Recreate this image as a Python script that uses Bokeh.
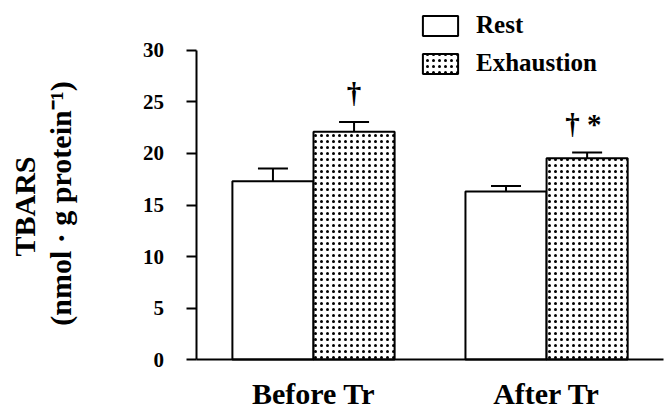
from bokeh.plotting import figure
from bokeh.models import (ColumnDataSource, Range1d, Whisker, TeeHead,
                          Legend, LegendItem, FixedTicker, Label)
from bokeh.core.properties import value
from bokeh.embed import file_html
from bokeh.resources import INLINE

# ---- data ----
groups = ["Before Tr", "After Tr"]
rest = [17.3, 16.3]
rest_err = [1.25, 0.55]
exhaustion = [22.1, 19.55]
exhaustion_err = [0.95, 0.55]
marks = ["\u2020", "\u2020  *"]
series_names = ["Rest", "Exhaustion"]
y_ticks = [0, 5, 10, 15, 20, 25, 30]
y_title = ["TBARS", "(nmol \u00b7 g protein\u207b\u00b9)"]

FONT = "Liberation Serif"
BAR_W = 0.348
OFF = BAR_W / 2
MARK_GAP = 2.8

centers = [i + 0.5 for i in range(len(groups))]
src = ColumnDataSource(dict(
    rest_x=[c - OFF for c in centers],
    exh_x=[c + OFF for c in centers],
    rest=rest,
    rest_up=[v + e for v, e in zip(rest, rest_err)],
    exh=exhaustion,
    exh_up=[v + e for v, e in zip(exhaustion, exhaustion_err)],
    mark=marks,
    mark_y=[v + e + MARK_GAP for v, e in zip(exhaustion, exhaustion_err)],
))

p = figure(width=664, height=409, x_range=Range1d(-0.843, 2.006), y_range=Range1d(-4.854, 34.854),
           output_backend="svg", toolbar_location=None, min_border=0)
p.outline_line_color = None
p.grid.visible = False
p.background_fill_color = "white"
p.border_fill_color = "white"

r_rest = p.vbar(x="rest_x", top="rest", width=BAR_W, source=src,
                fill_color="white", line_color="black", line_width=2)
r_exh = p.vbar(x="exh_x", top="exh", width=BAR_W, source=src,
               fill_color="white", line_color="black", line_width=2,
               hatch_pattern="dot", hatch_color="black", hatch_scale=6, hatch_weight=1)

for base, lo, up in [("rest_x", "rest", "rest_up"), ("exh_x", "exh", "exh_up")]:
    w = Whisker(base=base, lower=lo, upper=up, source=src,
                line_color="black", line_width=2,
                upper_head=TeeHead(size=30, line_color="black", line_width=2), lower_head=None)
    p.add_layout(w)

p.text(x="exh_x", y="mark_y", text="mark", source=src,
       text_font=value(FONT), text_font_style="bold", text_font_size="29px",
       text_align="center", text_baseline="alphabetic", text_color="black")

# axes (drawn at fixed data locations inside the full-canvas frame)
ya = p.yaxis[0]
ya.fixed_location = 0
ya.bounds = (0, 30)
ya.ticker = FixedTicker(ticks=y_ticks)
ya.minor_tick_line_color = None
ya.major_tick_in = 0
ya.major_tick_out = 10
ya.major_tick_line_width = 2
ya.axis_line_width = 2
ya.major_label_standoff = 23
ya.major_label_text_font = FONT
ya.major_label_text_font_style = "bold"
ya.major_label_text_font_size = "21px"
ya.major_label_text_color = "black"

xa = p.xaxis[0]
xa.fixed_location = 0
xa.bounds = (0, 2)
xa.axis_line_width = 2
xa.ticker = FixedTicker(ticks=centers)
xa.major_label_overrides = {c: g for c, g in zip(centers, groups)}
xa.major_tick_line_color = None
xa.minor_tick_line_color = None
xa.major_tick_in = 0
xa.major_tick_out = 0
xa.major_label_standoff = 17
xa.major_label_text_font = FONT
xa.major_label_text_font_style = "bold"
xa.major_label_text_font_size = "30px"
xa.major_label_text_color = "black"

# y-axis title (two rotated lines)
for txt, sx, sy in [(y_title[0], 24, 203), (y_title[1], 60, 206)]:
    p.add_layout(Label(x=sx, y=sy, x_units="screen", y_units="screen", text=txt,
                       angle=90, angle_units="deg", text_align="center", text_baseline="middle",
                       text_font=FONT, text_font_style="bold", text_font_size="30px",
                       text_color="black"))

legend = Legend(items=[LegendItem(label=series_names[0], renderers=[r_rest]),
                       LegendItem(label=series_names[1], renderers=[r_exh])],
                location=(418, 332), glyph_width=44, glyph_height=25, spacing=10,
                label_standoff=14, label_height=25, padding=0, margin=0,
                border_line_alpha=0, background_fill_alpha=0,
                label_text_font=FONT, label_text_font_style="bold",
                label_text_font_size="25px", label_text_color="black")
p.add_layout(legend)

open("out.html", "w").write(file_html(p, INLINE))
